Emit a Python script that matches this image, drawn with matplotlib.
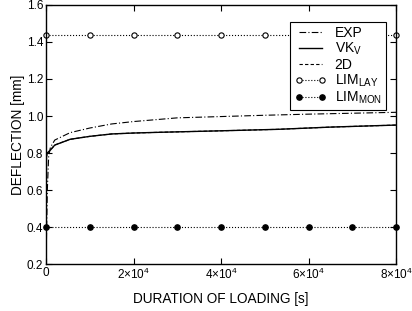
import matplotlib.pyplot as plt
from matplotlib.ticker import FuncFormatter

plt.rcParams['font.family'] = ['Liberation Sans', 'DejaVu Sans']
plt.rcParams['mathtext.fontset'] = 'custom'
plt.rcParams['mathtext.rm'] = 'Liberation Sans'

# Experiment
t_exp = [0, 300, 600, 1000, 2000, 5500, 10000, 15000, 20000, 26000, 30000,
         40000, 50000, 60000, 70000, 80000]
d_exp = [0.2, 0.6, 0.78, 0.83, 0.87, 0.91, 0.935, 0.957, 0.97, 0.982, 0.99,
         0.997, 1.004, 1.01, 1.015, 1.02]

# Model VK_v
t_vk = [0, 100, 300, 1000, 2000, 5500, 10000, 15000, 20000, 26000, 40000,
        53000, 65000, 80000]
d_vk = [0.2, 0.78, 0.80, 0.816, 0.843, 0.874, 0.89, 0.903, 0.908, 0.912, 0.92,
        0.928, 0.94, 0.951]

# 2D model (coincides with VK_v)
t_2d = t_vk
d_2d = d_vk

# Limits
t_lim = [0, 10000, 20000, 30000, 40000, 50000, 60000, 70000, 80000]
lim_lay = [1.44] * len(t_lim)
lim_mon = [0.4] * len(t_lim)

fig = plt.figure(figsize=(4.12, 3.11), dpi=100)
ax = fig.add_axes([0.1117, 0.151, 0.8495, 0.833])

ax.plot(t_exp, d_exp, color='black', lw=0.8, ls=(0, (6, 2, 1, 2)), label='EXP')
ax.plot(t_vk, d_vk, color='black', lw=1.0, ls='-', label=r'VK$_\mathregular{V}$')
ax.plot(t_2d, d_2d, color='black', lw=0.8, ls=(0, (3, 2)), label='2D')
ax.plot(t_lim, lim_lay, color='black', lw=0.8, ls=':', marker='o', ms=3.8,
        mfc='white', mec='black', mew=0.8, label=r'LIM$_\mathregular{LAY}$', clip_on=False)
ax.plot(t_lim, lim_mon, color='black', lw=0.8, ls=':', marker='o', ms=3.8,
        mfc='black', mec='black', label=r'LIM$_\mathregular{MON}$', clip_on=False)

ax.set_xlim(0, 80000)
ax.set_ylim(0.2, 1.6)
ax.set_xticks([0, 20000, 40000, 60000, 80000])
ax.set_yticks([0.2, 0.4, 0.6, 0.8, 1.0, 1.2, 1.4, 1.6])


def xfmt(v, pos):
    if v == 0:
        return '0'
    return r'$\mathregular{%d{\times}10^4}$' % round(v / 10000)


ax.xaxis.set_major_formatter(FuncFormatter(xfmt))
ax.yaxis.set_major_formatter(FuncFormatter(lambda v, p: '%.1f' % v))
ax.tick_params(direction='in', top=True, right=True, length=4.5, width=0.8,
               labelsize=8.5, pad=2)
for s in ax.spines.values():
    s.set_linewidth(1.0)

ax.set_xlabel('DURATION OF LOADING [s]', fontsize=9.8, labelpad=7)
ax.set_ylabel('DEFLECTION [mm]', fontsize=9.8, labelpad=1)

leg = ax.legend(loc='upper right', bbox_to_anchor=(0.971, 0.934), borderaxespad=0,
                fontsize=10, frameon=True, fancybox=False, edgecolor='black',
                framealpha=1, handlelength=2.3, handletextpad=0.6,
                labelspacing=0.05, borderpad=0.3, numpoints=2)
leg.get_frame().set_linewidth(0.8)

fig.savefig('out.png', dpi=100)
